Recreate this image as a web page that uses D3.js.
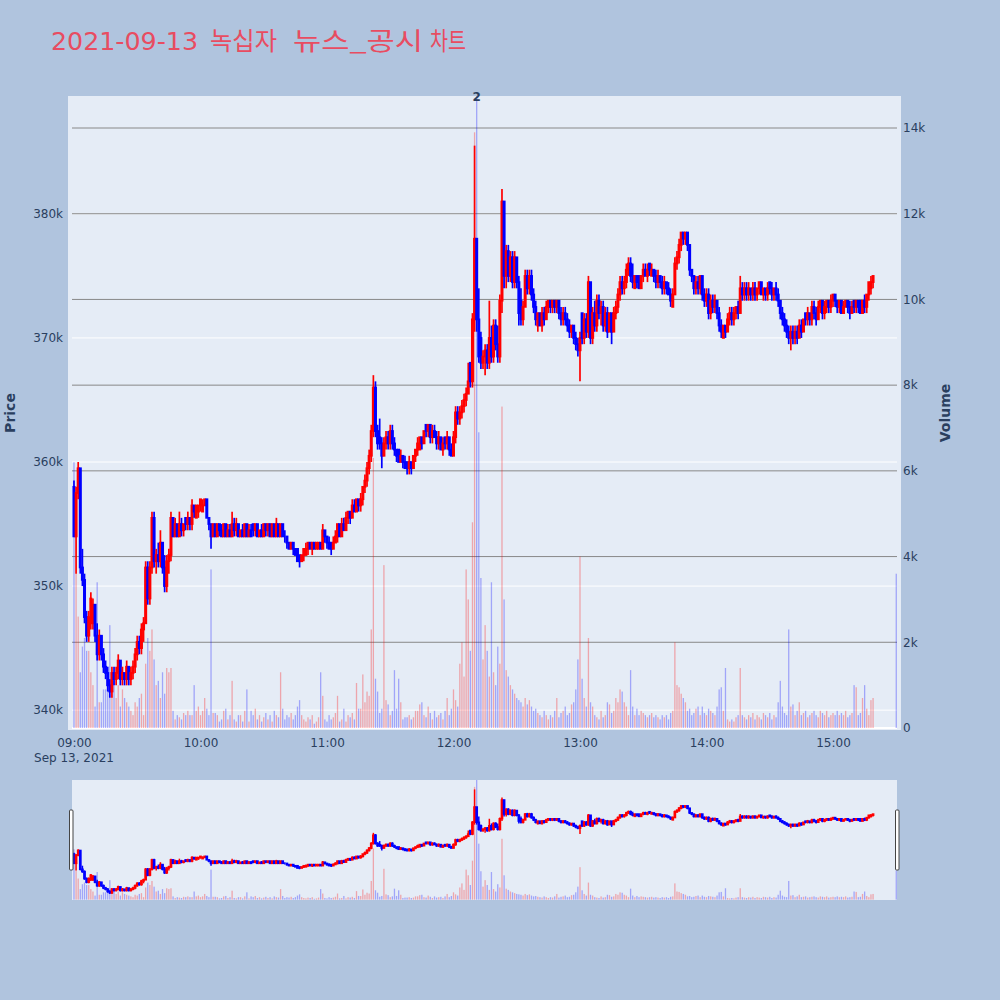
<!DOCTYPE html>
<html><head><meta charset="utf-8">
<script src="https://cdn.jsdelivr.net/npm/d3@7"></script>
<style>body{margin:0;background:#b0c4de;}svg{display:block}</style>
</head><body>
<svg id="chart" width="1000" height="1000"></svg>
<script>
// minute offsets from 09:00 (regular session + 15:30 closing auction)
const minuteOffsets = d3.range(0, 380).concat([390]);
// [open, high, low, close] in thousands of KRW
const candles = [
[358,358.5,354,354],[354,358,351,357.5],[357.5,360,357,359.5],[359.5,359.5,351,351.5],[351.5,353,350,350.5],
[350.5,351,347,347.5],[347.5,348,345.5,346],[346,348,345.5,347.5],[347,349.5,346.5,349],[347,349,346.5,348.5],
[348.5,348.5,345.5,346],[346,347,344,344.5],[344.5,346.5,344,346],[346,346,344,344.5],[344.5,345,343,343.5],
[343.5,344,342.5,343],[343,343.5,341.5,342],[342,342.5,341,341.5],[341.5,343.5,341,343],[343,343.5,342,342.5],
[342.5,343.5,342,343],[343,344.5,342.5,344],[344,344,342,342.5],[342.5,343.5,342,343],[343,343,342,342.5],
[342.5,344,342,343.5],[343.5,343.5,342,342.5],[342.5,343.5,342,343],[343,344,342.5,343.5],[343.5,345,343,344.5],
[344.5,346,344,345.5],[345.5,346,344.5,345],[345,347,344.5,346.5],[346.5,347.5,345.5,347],[347,352,347,351.5],
[351.5,352,348.5,349],[349,352,348.5,351.5],[351.5,356,351,355.5],[355.5,356,351.5,352],[352,353,351,352.5],
[352.5,353.5,351.5,352],[352,354.5,351.5,353.5],[353.5,353.5,351,351.5],[351.5,352.5,349.5,350],[350,352.5,349.5,352],
[352,353,351,352.5],[352.5,356,352,355.5],[355.5,355.5,354,354],[354,355.5,354,355],[355,355,354,354],
[354,356,354,355],[355,355.5,354,354.5],[354.5,355,354,355],[355.5,355.5,354.5,355],[355,356,354.5,355.5],
[355.5,355.5,354.5,355],[355,357,354.5,356.5],[356.5,356.5,355.5,356],[355.5,356.5,355.5,356.5],[356,356.5,355.5,356.5],
[356.5,357,356,357],[356,357,356,356.5],[356.5,357,356.5,357],[357,357,355.5,355.5],[355.5,355.5,354.5,355],
[355,355,353,354],[354,355,354,355],[355,355,354,354],[354,355,354,355],[355,355,354,354.5],
[354.5,355,354,354],[354,355,354,355],[355,355,354,354],[354,355,354,354.5],[354.5,355,354,354],
[354,356,354,355],[355,355.5,354,354.5],[354.5,355.5,354,355],[355,355,354,354],[354,354.5,354,354.5],
[354.5,355,354,354],[354,355,354,355],[355,355,354,354],[354,355,354,354.5],[354.5,355,354,354],
[355,355,354,354.5],[354.5,355,354,355],[355,355,354,354],[354,354.5,354,354.5],[354.5,355,354,354],
[354,355,354,355],[355,355,354,354.5],[354.5,355,354,355],[355,355,354,354],[354,355,354,355],
[355,355,354,354],[354,355.5,354,355],[355,355,354,354],[354,355,354,355],[355,355,354,354],
[354,354.5,353.5,354],[354,354,353,353.5],[353.5,353.5,353,353],[353,353.5,353,353.5],[353.5,353.5,352.5,353],
[353,353,352.5,352.5],[353,353,352,352],[352.5,352.5,351.5,352],[352,352.5,352,352.5],[352.5,353,352,353],
[352.5,353.5,352.5,353],[353,353.5,352.5,353.5],[353.5,353.5,353,353],[353,353.5,352.5,353.5],[353.5,353.5,353,353],
[353,353.5,353,353.5],[353,353.5,353,353.5],[353.5,353.5,353,353],[353,355,353,354.5],[354.5,354.5,353.5,354],
[354,354,353,353.5],[353.5,354,353,353],[353.5,353.5,352.5,353],[353,354,353,353.5],[353.5,354.5,353.5,354],
[354,355,353.5,355],[355,355,354,354],[354,355.5,354,355],[355,355.5,354.5,354.5],[354.5,356,354.5,355.5],
[355.5,356,355,356],[356,356,355,355.5],[355.5,357,355.5,356.5],[356.5,357,356,356],[356,357,356,357],
[357,357,356,356.5],[356.5,357.5,356,357],[357,358,356.5,358],[358,359,357.5,358.5],[358.5,360,358,359.5],
[359.5,361,359,360.5],[360.5,363,360,362.5],[362.5,367,362,366],[366,366.5,362,362.5],[362.5,363,361,361.5],
[362,363.5,361,361.5],[361.5,362,359.5,360.5],[360.5,362,360.5,361.5],[361.5,362.5,361,362],[362,362.5,361,361.5],
[361.5,363,361,362.5],[362.5,363,361,361.5],[361.5,362,360.5,361],[361,361,360,360.5],[361,361,360,360],
[360,361,360,360.5],[360.5,360.5,359.5,360],[360,360.5,359.5,359.5],[360,360,359,359.5],[359.5,360.5,359,360],
[360,360,359,359.5],[359.5,360.5,359.5,360.5],[360.5,361,360,361],[361,362,360.5,361.5],[361,362,361,362],
[362,362,361,361.5],[361.5,362.5,361.5,362.5],[363,363,362,362.5],[362.5,363,362,363],[363,363,361.5,362],
[362,363,361.5,362.5],[362.5,363,362,362],[362,362.5,361,361.5],[361.5,362.5,361,362],[362,362,361,361],
[361,362,360.5,361.5],[362,362,361,361.5],[361.5,362.5,361,362],[362,362,360.5,361],[361,361.5,360.5,360.5],
[360.5,362.5,360.5,362],[362,364.5,361.5,364],[364,364.5,363,363.5],[363.5,364.5,363,364],[364,365,363.5,364.5],
[364.5,365.5,364,365],[365,366,364.5,365.5],[365.5,368,365.5,366.5],[368,368,366,366.5],[366.5,372,366,371.5],
[371.5,385.5,370.5,378],[378,378,370.5,371.5],[371.5,374,368,368.5],[370,370.5,367.5,368],[368,369,367.5,368.5],
[368.5,369.5,367,369],[369,369.5,367.5,368],[368,373,367.5,370],[370,371,368,368.5],[368.5,371.5,368,371],
[371,371.5,369,369.5],[369.5,371,368,368.5],[368.5,373.5,368,373],[373,382,372,381],[381,381,374,375],
[375,377.5,374,377],[377,377.5,374.5,375],[375,377,374.5,376.5],[376.5,377,374,374.5],[374.5,377,374,376.5],
[376.5,376.5,374,374.5],[374.5,375,371,372],[373,374,371,371.5],[371.5,373,371,372.5],[372.5,375.5,372.5,375],
[375,375.5,373.5,374],[374,375.5,373.5,375],[375,375.5,373,373.5],[373.5,374,372,372.5],[372.5,373,371,371.5],
[371,372,370.5,372],[372,372,371,371],[371,372.5,370.5,372],[372,372.5,371,371.5],[371.5,373,371.5,372.5],
[372.5,373,372,373],[373,373,372,372.5],[372.5,373,372,373],[373,373,372,372.5],[372.5,373,372,373],
[373,373,371.5,372],[372,372.5,371,371.5],[371.5,372.5,371,372],[372,372.5,371,371.5],[371.5,372,370.5,371],
[371,371.5,370,370.5],[370.5,371,370,371],[371,371,369.5,370],[370,370.5,369,369.5],[369.5,370,368.5,369],
[369,370.5,366.5,370],[372,372,369.5,370],[370,372,369.5,371.5],[371.5,372,370,370.5],[370.5,375,370,374.5],
[374.5,374.5,369.5,370],[370,372.5,369.5,372],[372,373,370.5,371],[371,373.5,370.5,373],[373,373.5,371.5,372],
[372,373,371,372.5],[372.5,373,370.5,371],[371,372.5,370.5,372],[372,372.5,370,370.5],[370.5,372,370.5,372],
[372,372,369.5,370.5],[370.5,372.5,370.5,372],[372,373,371.5,372.5],[372.5,374,372,373.5],[373.5,375,373,374.5],
[374.5,375,373.5,374],[374,375,373.5,374.5],[374.5,376,374,375.5],[375.5,376.5,375,376],[376,376.5,374.5,375],
[375,376,374,374.5],[374,375,374,375],[375,375,374,374.5],[375,375,374,374],[374,375,374,375],
[375,376,374.5,375.5],[375.5,376,375,375],[375,376,374.5,375.5],[376,376,375,375.5],[375,376,375,375.5],
[375.5,375.5,374.5,375],[375,375.5,374,374.5],[374.5,375.5,374,375],[375,375,374,374.5],[374.5,375,373.5,374],
[374,375,373.5,374.5],[374.5,374.5,373.5,374],[374,374.5,373.5,373.5],[373.5,374,372.5,373],[372.5,374,372.5,373.5],
[373.5,376.5,373.5,376],[376,377,375.5,376.5],[376.5,378,376,377.5],[377.5,378.5,377,378.5],[378.5,378.5,377.5,378],
[378,378.5,377.5,378.5],[378.5,378.5,377,377.5],[377.5,377.5,375,375.5],[375.5,375.5,374.5,375],[375,375,373.5,374],
[374,375,373.5,374.5],[374.5,375,373.5,374],[374,375,373.5,375],[375,375,373,373.5],[373.5,374,372.5,373],
[373,374,372.5,373.5],[373.5,374,371.5,372],[372,373.5,371.5,373],[373,373.5,372,372.5],[372.5,373.5,372,373],
[373,373,371.5,372],[372,372.5,370.5,371],[371,371.5,370,370.5],[370,371,370,371],[371,371,370,370.5],
[370.5,372,370.5,371.5],[371.5,372.5,371,372],[372,372.5,371,371.5],[371.5,372.5,371,372],[372,372.5,371.5,372.5],
[372.5,373,371.5,372],[372,375,372,374],[374,374.5,373,373.5],[373.5,374.5,373,374],[374,374.5,373,373.5],
[373.5,374.5,373,374],[374,374,373,373.5],[373.5,374.5,373,374],[374,374.5,373,373.5],[373.5,374,373,374],
[374,374.5,373.5,374.5],[374.5,374.5,373.5,373.5],[373.5,374,373,374],[374,374,373,373.5],[373.5,374.5,373,374],
[374.5,374.5,373.5,374],[374,374.5,373,373.5],[373.5,374,373,374],[374,374.5,373,373.5],[373.5,374,372.5,373],
[373,373,371.5,372],[372,372.5,371,371.5],[371.5,372,370.5,371],[371,371.5,370,370.5],[370.5,371,369.5,370],
[370,371,369,370.5],[370.5,371,369.5,370],[370,371,369.5,370.5],[370.5,371,369.5,370],[370,371.5,370,371],
[371,371.5,370,370.5],[370.5,371.5,370.5,371.5],[372,372,371,371.5],[371.5,372.5,371,372],[372,372,371,371.5],
[371.5,373,371,372.5],[372.5,373,371.5,372],[372,372.5,371,371.5],[371.5,373,371.5,372.5],[372.5,373,372,373],
[373,373,371.5,372],[372,373,371.5,372.5],[372.5,373,372,373],[373,373,372,372.5],[372.5,373.5,372,373],
[373,373.5,372.5,373.5],[373.5,373.5,372.5,373],[373,373,372,372.5],[372.5,373,372,373],[373,373,372,372],
[372,373,372,372.5],[372.5,373,372.5,373],[373,373,372,372.5],[372.5,373,371.5,372],[372,373,372,372.5],
[373,373,372,372.5],[372.5,373,372,373],[373,373,372,372.5],[373,373,372,372],[372,373,372,373],
[373,373.5,372,372.5],[372.5,373.5,372,373.5],[373.5,374.5,373,374.5],[374,375,373.5,374.5],[374.5,375,374,375],
[374.5,374.5,374.5,374.5]
];
const volumes = [
6200,3600,2600,1300,1900,2100,1800,1800,1300,1000,
500,3400,600,600,900,900,1100,2400,900,1100,
700,1000,500,900,700,600,500,400,300,600,
500,700,800,300,1500,2100,1800,2300,1600,1000,
1100,700,1300,800,1400,1300,1400,400,200,300,
250,200,350,300,400,300,300,1000,400,500,
300,400,700,450,300,3700,350,350,300,150,
200,400,450,200,300,1100,200,150,300,300,
150,400,900,150,400,300,450,200,300,150,
250,350,200,300,150,400,300,250,1300,450,
200,300,250,350,200,300,500,650,300,200,
150,250,200,300,100,150,250,1300,750,200,
150,300,200,250,350,750,150,200,450,150,
300,250,350,200,1050,450,450,1250,600,850,
750,2300,6300,1150,850,350,450,3800,650,550,
300,400,1350,450,1150,600,200,250,250,300,
200,250,400,400,550,600,300,250,500,350,
200,400,250,300,350,200,400,700,300,450,
900,650,500,1500,2000,1200,3700,3000,1800,4800,
13900,16000,6900,3500,1600,2400,1800,1200,3400,1300,
1000,1900,1500,7500,3000,1350,1200,1000,900,800,
700,650,600,500,700,550,650,500,400,450,
350,300,250,400,300,200,300,250,400,700,
250,350,400,500,300,350,550,600,900,1600,
4000,1150,700,500,2100,600,500,300,250,200,
400,250,300,600,550,350,400,700,600,900,
850,600,500,300,1350,500,300,450,300,400,
350,300,250,300,350,250,300,250,200,300,
250,300,200,350,400,2000,1000,950,800,700,
600,400,450,300,350,450,500,300,500,350,
300,450,400,350,300,500,900,950,400,1400,
200,150,200,150,250,300,1400,300,250,200,
300,250,350,200,300,250,200,350,300,250,
350,200,300,250,600,1100,500,350,300,2300,
500,550,300,400,600,300,350,400,250,300,
350,400,300,250,400,350,300,400,250,300,
350,300,400,300,350,300,400,250,300,350,
1000,950,300,350,700,1000,450,300,650,700,
3600
];
const priceTicks = [340,350,360,370,380];
const volumeTicks = [0,2000,4000,6000,8000,10000,12000,14000];
const hourTicks = [9,10,11,12,13,14,15];
const titleParts = ["2021-09-13","녹십자","뉴스_공시","차트"];
const newsMarks = [{minute:191, label:"2"}];

const FONT = "'DejaVu Sans', Verdana, sans-serif";
const TXT = "#2a3f5f";
const day = (h,m,s=0)=>new Date(2021,8,13,h,m,s);
const times = minuteOffsets.map(m=>day(9,m));
const data = candles.map((c,i)=>({t:times[i],o:c[0],h:c[1],l:c[2],c:c[3],v:volumes[i],up:c[3]>c[0]}));

const svg = d3.select("#chart");
const P = {l:68,r:901,t:96,b:730};
const S = {t:780,b:900};

const x = d3.scaleTime().domain([day(8,57,10),day(15,32,15)]).range([P.l,P.r]);
const yP = d3.scaleLinear().domain([338.4,389.5]).range([P.b,P.t]);
const yV = d3.scaleLinear().domain([-47,14747]).range([P.b,P.t]);
const ySP = d3.scaleLinear().domain([338.4,389.5]).range([S.b,S.t]);
const ySV = d3.scaleLinear().domain([-47,14747]).range([S.b,S.t]);

svg.append("rect").attr("width",1000).attr("height",1000).attr("fill","#b0c4de");

// title
const titleX = [51,210,293,430], titleW=[147,67,130,36];
titleParts.forEach((s,i)=>{
  svg.append("text").attr("x",titleX[i]).attr("y",50)
    .attr("font-family", i===0?FONT:"'Noto Sans CJK KR', sans-serif")
    .attr("font-size", i===0?25.5:25).attr("fill","#e84c61")
    .attr("textLength",titleW[i]).attr("lengthAdjust","spacingAndGlyphs")
    .text(s);
});

// main plot background
svg.append("rect").attr("x",P.l).attr("y",P.t).attr("width",P.r-P.l).attr("height",P.b-P.t).attr("fill","#e5ecf6");
svg.append("defs").append("clipPath").attr("id","clipMain").append("rect")
  .attr("x",P.l).attr("y",P.t).attr("width",P.r-P.l).attr("height",P.b-P.t);

// grids
const grid = svg.append("g");
grid.selectAll(".pg").data(priceTicks).join("line")
  .attr("x1",P.l+4).attr("x2",P.r-4).attr("y1",d=>yP(d)).attr("y2",d=>yP(d))
  .attr("stroke","#ffffff").attr("stroke-width",1);
grid.selectAll(".vg").data(volumeTicks.filter(d=>d>0)).join("line")
  .attr("x1",P.l+4).attr("x2",P.r-4).attr("y1",d=>yV(d)).attr("y2",d=>yV(d))
  .attr("stroke","#888888").attr("stroke-width",1);
grid.append("line").attr("x1",P.l+4).attr("x2",P.r-4).attr("y1",yV(0)).attr("y2",yV(0))
  .attr("stroke","#ffffff").attr("stroke-width",2);

function drawCandles(g, ys, bodyW, sw){
  const cg = g.selectAll("g.cd").data(data).join("g");
  cg.append("line")
    .attr("x1",d=>x(d.t)).attr("x2",d=>x(d.t))
    .attr("y1",d=>ys(d.h)).attr("y2",d=>ys(d.l))
    .attr("stroke",d=>d.up?"#ff0000":"#0000ff").attr("stroke-width",sw);
  cg.append("rect")
    .attr("x",d=>x(d.t)-bodyW/2).attr("width",bodyW)
    .attr("y",d=>ys(Math.max(d.o,d.c)))
    .attr("height",d=>Math.abs(ys(d.o)-ys(d.c)))
    .attr("fill",d=>d.up?"#ff0000":"#0000ff")
    .attr("stroke",d=>d.up?"#ff0000":"#0000ff").attr("stroke-width",sw);
}
function drawVolume(g, ys, w){
  g.selectAll("rect.vb").data(data).join("rect")
    .attr("x",d=>x(d.t)-w/2).attr("width",w)
    .attr("y",d=>ys(d.v)).attr("height",d=>ys(0)-ys(d.v))
    .attr("fill",d=>d.up?"rgba(255,0,0,0.3)":"rgba(0,0,255,0.3)");
}

const main = svg.append("g").attr("clip-path","url(#clipMain)");
drawCandles(main.append("g"), yP, 1.3, 1.7);
drawVolume(main.append("g"), yV, 1.3);

// news marker label
svg.selectAll("text.news").data(newsMarks).join("text")
  .attr("x",d=>x(day(9,d.minute))).attr("y",P.t+5).attr("text-anchor","middle")
  .attr("font-family",FONT).attr("font-size",12).attr("font-weight","bold").attr("fill",TXT)
  .text(d=>d.label);

// axes
const axL = svg.append("g").attr("transform",`translate(${P.l},0)`)
  .call(d3.axisLeft(yP).tickValues(priceTicks).tickFormat(d=>d+"k").tickSize(0).tickPadding(5));
const axR = svg.append("g").attr("transform",`translate(${P.r},0)`)
  .call(d3.axisRight(yV).tickValues(volumeTicks).tickFormat(d=>d===0?"0":(d/1000)+"k").tickSize(0).tickPadding(2));
const axB = svg.append("g").attr("transform",`translate(0,${P.b})`)
  .call(d3.axisBottom(x).tickValues(hourTicks.map(h=>day(h,0))).tickFormat(d3.timeFormat("%H:%M")).tickSize(0).tickPadding(8));
[axL,axR,axB].forEach(a=>{
  a.select(".domain").remove();
  a.selectAll("text").attr("font-family",FONT).attr("font-size",12).attr("fill",TXT);
});
svg.append("text").attr("x",x(day(9,0))).attr("y",762).attr("text-anchor","middle")
  .attr("font-family",FONT).attr("font-size",12).attr("fill",TXT).text("Sep 13, 2021");

svg.append("text").attr("transform","translate(15,413) rotate(-90)").attr("text-anchor","middle")
  .attr("font-family",FONT).attr("font-size",14).attr("font-weight","bold").attr("fill",TXT).text("Price");
svg.append("text").attr("transform","translate(950,413) rotate(-90)").attr("text-anchor","middle")
  .attr("font-family",FONT).attr("font-size",14).attr("font-weight","bold").attr("fill",TXT).text("Volume");

// range slider
svg.append("rect").attr("x",P.l+4).attr("y",S.t).attr("width",P.r-P.l-8).attr("height",S.b-S.t).attr("fill","#e5ecf6");
svg.select("defs").append("clipPath").attr("id","clipS").append("rect")
  .attr("x",P.l+4).attr("y",S.t).attr("width",P.r-P.l-8).attr("height",S.b-S.t);
const sl = svg.append("g").attr("clip-path","url(#clipS)");
drawCandles(sl.append("g"), ySP, 1.2, 1.5);
drawVolume(sl.append("g"), ySV, 1.3);
[P.l+1.5, P.r-5.5].forEach(hx=>{
  svg.append("rect").attr("x",hx).attr("y",810).attr("width",3.5).attr("height",60)
    .attr("fill","#ffffff").attr("stroke","#444").attr("stroke-width",1).attr("rx",1);
});
</script>
</body></html>
